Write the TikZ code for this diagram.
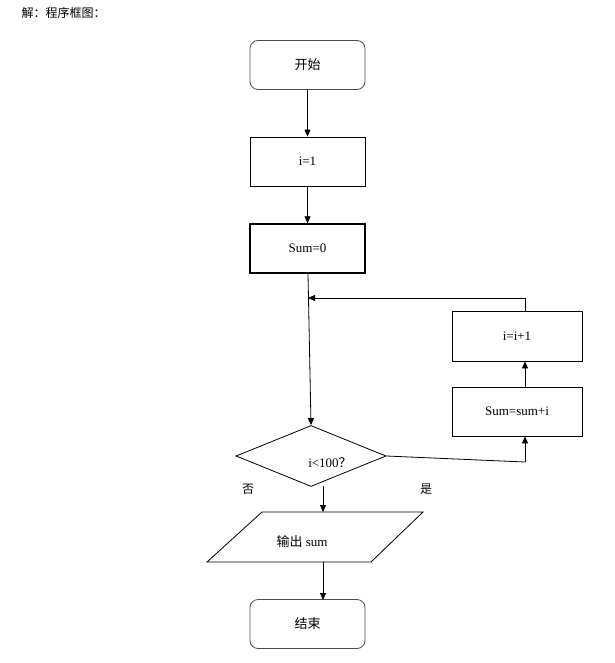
\documentclass[tikz,border=0pt]{standalone}
\usepackage{fontspec}
\setmainfont{Liberation Serif}
\newfontfamily\cjk{Noto Sans CJK SC}
\usetikzlibrary{shapes.geometric,arrows.meta}
\begin{document}
\begin{tikzpicture}[x=1pt,y=-1pt,
  box/.style={draw,line width=0.8pt,minimum width=115pt,minimum height=49pt,inner sep=0pt,font=\fontsize{13}{15}\selectfont},
  rbox/.style={box,rounded corners=8pt,draw=black!70},
  arr/.style={-{Triangle[length=7pt,width=6pt]},line width=0.8pt},
  ln/.style={line width=0.8pt}]
\useasboundingbox (0,0) rectangle (614,663);
\node[anchor=west,font=\cjk\fontsize{12}{14}\selectfont] (title) at (18,13) {解：程序框图：};
\node[rbox] (start) at (307.5,65) {\cjk 开始};
\node[box] (i1) at (307.5,161.5) {i=1};
\node[box,line width=1.4pt] (sum0) at (307.5,248.5) {Sum=0};
\node[box,minimum width=130pt,minimum height=50pt] (inc) at (517,336) {i=i+1};
\node[box,minimum width=130pt,minimum height=49pt] (add) at (517,411.5) {Sum=sum+i};
\node[draw,diamond,aspect=2.45,minimum width=150pt,minimum height=61pt,inner sep=0pt,line width=0.8pt] (dec) at (311,456) {};
\node[font=\fontsize{13}{15}\selectfont] (dlab) at (330,463) {i\textless{}100\cjk？};
\node (dlab2) at (322,462) {};
\coordinate (p1) at (262,512); \coordinate (p2) at (423,512);
\coordinate (p3) at (371,562); \coordinate (p4) at (207,562);
\draw[line width=0.8pt] (p1) -- (p2) -- (p3) -- (p4) -- cycle;
\node[font=\fontsize{13}{15}\selectfont] (out) at (302,542) {{\cjk 输出} sum};
\node[rbox] (end) at (307.5,624) {\cjk 结束};
\node[font=\cjk\fontsize{12}{14}\selectfont] (no) at (248,489) {否};
\node[font=\cjk\fontsize{12}{14}\selectfont] (yes) at (426,489) {是};
\coordinate (pt) at (323,512);
\coordinate (db) at (323,486);
\coordinate (c1) at (525,462);
\coordinate (c2) at (525,298);
\coordinate (c3) at (308,298);
\draw[arr] (start) -- (i1);
\draw[arr] (i1) -- (sum0);
\draw[arr] (sum0) -- (dec.north);
\draw[ln] (dec.east) -- (c1);
\draw[arr] (c1) -- (c1 |- add.south);
\draw[arr] (add.north -| c1) -- (c1 |- inc.south);
\draw[ln] (c1 |- inc.north) -- (c2);
\draw[arr] (c2) -- (c3);
\draw[arr] (db) -- (pt);
\draw[arr] (323,562) -- (323,600);
\end{tikzpicture}
\end{document}
